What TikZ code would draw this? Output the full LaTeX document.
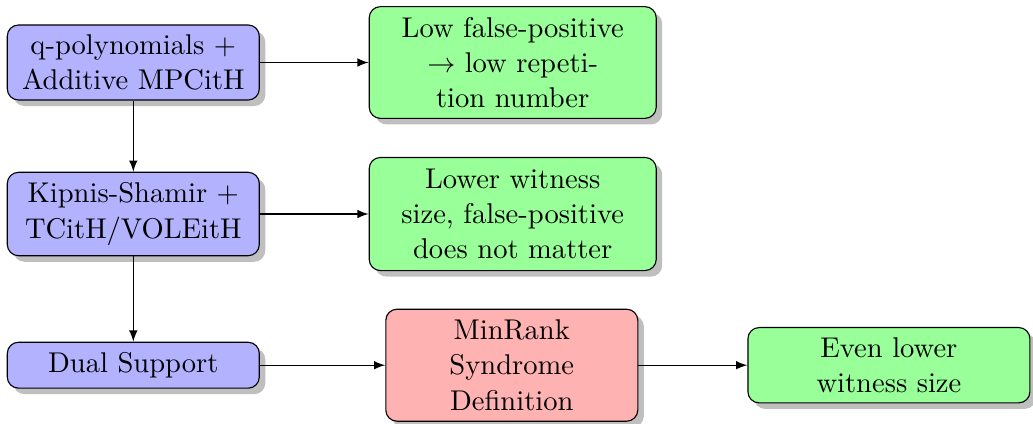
\documentclass[tikz,border=0pt]{standalone}
\usetikzlibrary{shadows,arrows}
\begin{document}
\begin{tikzpicture}[x=0.35714pt,y=-0.35714pt,
  box/.style={draw, rounded corners=4pt, align=center, drop shadow, inner sep=0pt,
    font=\fontsize{10.2}{12.6}\selectfont},
  bluebox/.style={box, fill=blue!30},
  greenbox/.style={box, fill=green!40},
  redbox/.style={box, fill=red!30},
  conn/.style={-latex, thin}]
\useasboundingbox (0,0) rectangle (1033,423);
\node[bluebox, minimum width=90pt, minimum height=26.8pt] (A) at (133.3,62.5) {q-polynomials +\\Additive MPCitH};
\node[bluebox, minimum width=90pt, minimum height=29.8pt] (B) at (133.3,214) {Kipnis-Shamir +\\TCitH/VOLEitH};
\node[bluebox, minimum width=90pt, minimum height=16.4pt] (C) at (133.3,365.2) {Dual Support};
\node[greenbox, minimum width=102.5pt, minimum height=39.9pt] (D) at (512.7,62.5) {Low false-positive\\$\rightarrow$ low repeti-\\tion number};
\node[greenbox, minimum width=102.5pt, minimum height=40.4pt] (E) at (512.7,214) {Lower witness\\size, false-positive\\does not matter};
\node[redbox, minimum width=90pt, minimum height=40pt] (F) at (511.8,365.2) {MinRank\\Syndrome\\Definition};
\node[greenbox, minimum width=100.7pt, minimum height=26.9pt] (G) at (888.9,365.2) {Even lower\\witness size};
\draw[conn] (A.east) -- (D.west);
\draw[conn] (A.south) -- (B.north);
\draw[conn] (B.east) -- (E.west);
\draw[conn] (B.south) -- (C.north);
\draw[conn] (C.east) -- (F.west);
\draw[conn] (F.east) -- (G.west);
\end{tikzpicture}
\end{document}
